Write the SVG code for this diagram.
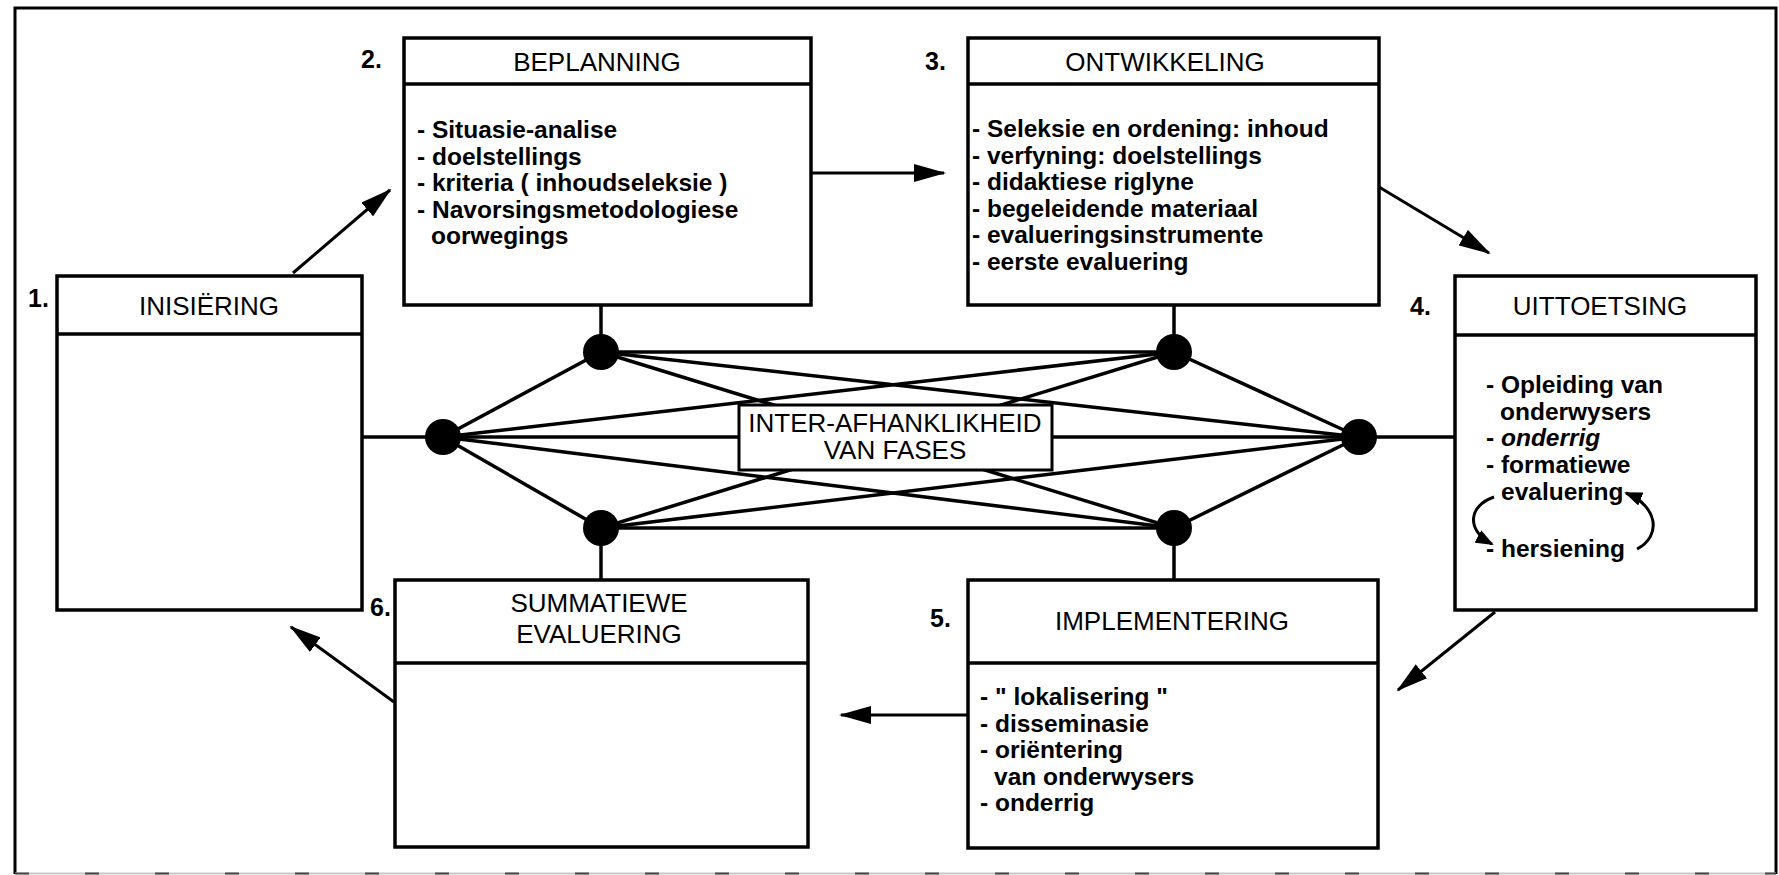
<svg xmlns="http://www.w3.org/2000/svg" width="1779" height="875" viewBox="0 0 1779 875">
  <style>
    .box { fill: #fff; stroke: #000; stroke-width: 3.5; }
    .div { stroke: #000; stroke-width: 3.5; }
    .hdr { font-family: "Liberation Sans", Arial, sans-serif; font-size: 26px; fill: #000; text-anchor: middle; }
    .num { font-family: "Liberation Sans", Arial, sans-serif; font-size: 25px; font-weight: bold; fill: #000; }
    .body { font-family: "Liberation Sans", Arial, sans-serif; font-size: 24.5px; font-weight: bold; fill: #000; }
    .net line { stroke: #000; stroke-width: 3.5; }
    .dot { fill: #000; }
    .arrow { stroke: #000; stroke-width: 3; fill: none; marker-end: url(#head); }
    .loop { stroke: #000; stroke-width: 3; fill: none; marker-end: url(#smallhead); }
  </style>
  <defs>
    <marker id="head" markerUnits="userSpaceOnUse" markerWidth="32" markerHeight="18" refX="30" refY="9" orient="auto">
      <path d="M0,0 L32,9 L0,18 z" fill="#000"/>
    </marker>
    <marker id="smallhead" markerUnits="userSpaceOnUse" markerWidth="18" markerHeight="14" refX="16" refY="7" orient="auto">
      <path d="M0,0 L18,7 L0,14 z" fill="#000"/>
    </marker>
  </defs>

  <rect width="1779" height="875" fill="#fff"/>

  <!-- page frame -->
  <g id="frame">
    <path d="M15,874 L15,8 L1776,8 L1776,874" fill="none" stroke="#000" stroke-width="3"/>
    <line x1="15" y1="873.5" x2="1776" y2="873.5" stroke="#c8c8c8" stroke-width="2"/>
    <line x1="15" y1="873.5" x2="1776" y2="873.5" stroke="#444" stroke-width="2" stroke-dasharray="14 56"/>
  </g>

  <!-- connectors: phase cycle arrows and the inter-dependency network -->
  <g id="connectors">
    <line class="arrow" x1="293" y1="273" x2="390" y2="190"/>
    <line class="arrow" x1="811" y1="173" x2="944" y2="173"/>
    <line class="arrow" x1="1379" y1="187" x2="1489" y2="253"/>
    <line class="arrow" x1="1495" y1="612" x2="1398" y2="690"/>
    <line class="arrow" x1="968" y1="715" x2="841" y2="715"/>
    <line class="arrow" x1="394" y1="702" x2="291" y2="627"/>

    <g class="net">
      <!-- stubs to the boxes -->
      <line x1="362" y1="437" x2="443" y2="437"/>
      <line x1="1359" y1="437" x2="1455" y2="437"/>
      <line x1="601" y1="305" x2="601" y2="352"/>
      <line x1="1174" y1="305" x2="1174" y2="352"/>
      <line x1="601" y1="528" x2="601" y2="580"/>
      <line x1="1174" y1="528" x2="1174" y2="580"/>
      <!-- links between the six junctions -->
      <line x1="443" y1="437" x2="601" y2="352"/>
      <line x1="443" y1="437" x2="601" y2="528"/>
      <line x1="443" y1="437" x2="1359" y2="437"/>
      <line x1="443" y1="437" x2="1174" y2="352"/>
      <line x1="443" y1="437" x2="1174" y2="528"/>
      <line x1="601" y1="352" x2="1174" y2="352"/>
      <line x1="601" y1="352" x2="1359" y2="437"/>
      <line x1="601" y1="352" x2="1174" y2="528"/>
      <line x1="601" y1="528" x2="1174" y2="528"/>
      <line x1="601" y1="528" x2="1359" y2="437"/>
      <line x1="601" y1="528" x2="1174" y2="352"/>
      <line x1="1174" y1="352" x2="1359" y2="437"/>
      <line x1="1174" y1="528" x2="1359" y2="437"/>
    </g>
    <circle class="dot" cx="443" cy="437" r="18"/>
    <circle class="dot" cx="601" cy="352" r="18"/>
    <circle class="dot" cx="1174" cy="352" r="18"/>
    <circle class="dot" cx="1359" cy="437" r="18"/>
    <circle class="dot" cx="601" cy="528" r="18"/>
    <circle class="dot" cx="1174" cy="528" r="18"/>
  </g>

  <g id="inter-afhanklikheid">
    <rect x="739" y="405" width="313" height="65" fill="#fff" stroke="#000" stroke-width="3"/>
    <text class="hdr" x="895" y="432">INTER-AFHANKLIKHEID</text>
    <text class="hdr" x="895" y="459">VAN FASES</text>
  </g>

  <g id="inisiering">
    <rect class="box" x="57" y="276" width="305" height="334"/>
    <line class="div" x1="57" y1="334" x2="362" y2="334"/>
    <text class="num" x="28" y="307">1.</text>
    <text class="hdr" x="209" y="315">INISIËRING</text>
  </g>

  <g id="beplanning">
    <rect class="box" x="404" y="38" width="407" height="267"/>
    <line class="div" x1="404" y1="84" x2="811" y2="84"/>
    <text class="num" x="361" y="68">2.</text>
    <text class="hdr" x="597" y="71">BEPLANNING</text>
    <text class="body" x="417" y="138">- Situasie-analise</text>
    <text class="body" x="417" y="164.5">- doelstellings</text>
    <text class="body" x="417" y="191">- kriteria ( inhoudseleksie )</text>
    <text class="body" x="417" y="217.5">- Navorsingsmetodologiese</text>
    <text class="body" x="431" y="244">oorwegings</text>
  </g>

  <g id="ontwikkeling">
    <rect class="box" x="968" y="38" width="411" height="267"/>
    <line class="div" x1="968" y1="84" x2="1379" y2="84"/>
    <text class="num" x="925" y="70">3.</text>
    <text class="hdr" x="1165" y="71">ONTWIKKELING</text>
    <text class="body" x="972" y="137">- Seleksie en ordening: inhoud</text>
    <text class="body" x="972" y="163.5">- verfyning: doelstellings</text>
    <text class="body" x="972" y="190">- didaktiese riglyne</text>
    <text class="body" x="972" y="216.5">- begeleidende materiaal</text>
    <text class="body" x="972" y="243">- evalueringsinstrumente</text>
    <text class="body" x="972" y="269.5">- eerste evaluering</text>
  </g>

  <g id="uittoetsing">
    <rect class="box" x="1455" y="276" width="301" height="334"/>
    <line class="div" x1="1455" y1="335" x2="1756" y2="335"/>
    <text class="num" x="1410" y="315">4.</text>
    <text class="hdr" x="1600" y="315">UITTOETSING</text>
    <text class="body" x="1486" y="393">- Opleiding van</text>
    <text class="body" x="1500" y="419.5">onderwysers</text>
    <text class="body" x="1486" y="446">- <tspan font-style="italic">onderrig</tspan></text>
    <text class="body" x="1486" y="473">- formatiewe</text>
    <text class="body" x="1501" y="500">evaluering</text>
    <text class="body" x="1486" y="557">- hersiening</text>
    <path class="loop" d="M1494,497 C1468,506 1466,530 1492,544"/>
    <path class="loop" d="M1637,549 C1662,536 1658,506 1626,493"/>
  </g>

  <g id="implementering">
    <rect class="box" x="968" y="580" width="410" height="268"/>
    <line class="div" x1="968" y1="663" x2="1378" y2="663"/>
    <text class="num" x="930" y="627">5.</text>
    <text class="hdr" x="1172" y="630">IMPLEMENTERING</text>
    <text class="body" x="980" y="705">- " lokalisering "</text>
    <text class="body" x="980" y="731.5">- disseminasie</text>
    <text class="body" x="980" y="758">- oriëntering</text>
    <text class="body" x="994" y="784.5">van onderwysers</text>
    <text class="body" x="980" y="811">- onderrig</text>
  </g>

  <g id="summatiewe-evaluering">
    <rect class="box" x="395" y="580" width="413" height="267"/>
    <line class="div" x1="395" y1="663" x2="808" y2="663"/>
    <text class="num" x="370" y="616">6.</text>
    <text class="hdr" x="599" y="612">SUMMATIEWE</text>
    <text class="hdr" x="599" y="643">EVALUERING</text>
  </g>
</svg>
